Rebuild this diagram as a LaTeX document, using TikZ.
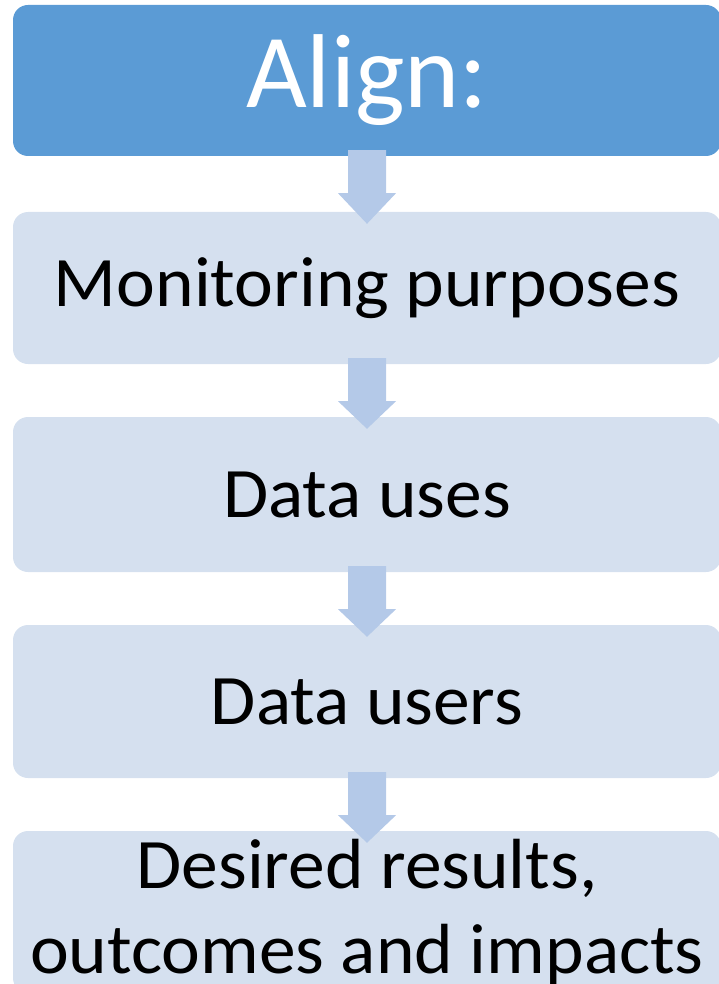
\documentclass[tikz,border=0pt]{standalone}
\usepackage{fontspec}
\setmainfont{Carlito}
\newfontfamily\boxfont[FakeStretch=1.035]{Carlito}
\usetikzlibrary{calc}
\definecolor{topblue}{HTML}{5B9BD5}
\definecolor{lightbox}{HTML}{D5E0EF}
\definecolor{arrowblue}{HTML}{B4C9E8}
\tikzset{
  x=1pt, y=1pt,
  stepbox/.style={fill=lightbox, draw=none, rounded corners=15pt, minimum width=708pt, inner sep=0pt, text=black, font=\boxfont\fontsize{71}{85}\selectfont, align=center},
  topbox/.style={stepbox, fill=topblue, text=white, font=\fontsize{105}{110}\selectfont},
  flowarrow/.style={fill=arrowblue, draw=none}
}
\newcommand{\flowarr}[2]{%
  \fill[flowarrow] ([shift={(-19,6)}]#1.south) -- ([shift={(19,6)}]#1.south) -- ([shift={(19,-37)}]#1.south) -- ([shift={(29,-37)}]#1.south) -- ([shift={(0,-12)}]#2.north) -- ([shift={(-29,-37)}]#1.south) -- ([shift={(-19,-37)}]#1.south) -- cycle;}
\begin{document}
\begin{tikzpicture}
\useasboundingbox (0,0) rectangle (719,-984);
\node[topbox, minimum height=151pt] (align) at (367,-80.5) {Align:};
\node[stepbox, minimum height=152pt] (purp) at (367,-288) {Monitoring purposes};
\node[stepbox, minimum height=155pt] (uses) at (367,-494.5) {Data uses};
\node[stepbox, minimum height=153pt] (users) at (367,-701.5) {Data users};
\node[stepbox, minimum height=162pt] (res) at (367,-912) {Desired results,\\outcomes and impacts};
\flowarr{align}{purp}
\flowarr{purp}{uses}
\flowarr{uses}{users}
\flowarr{users}{res}
\end{tikzpicture}
\end{document}
